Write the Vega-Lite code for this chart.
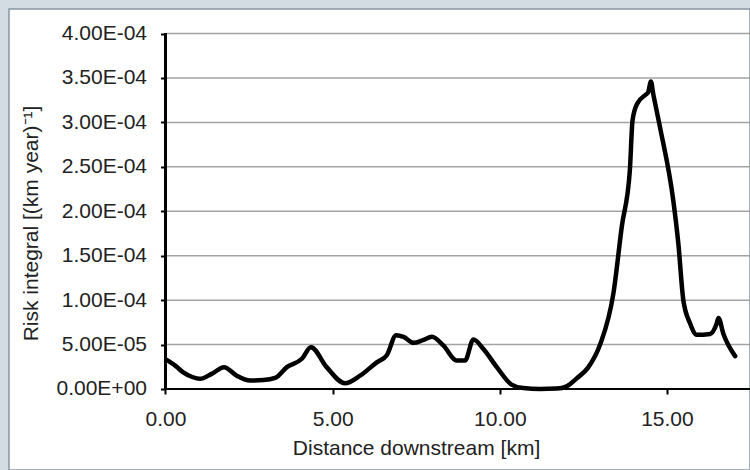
{
  "$schema": "https://vega.github.io/schema/vega-lite/v6.json",
  "width": 741,
  "height": 461,
  "autosize": {"type": "none"},
  "padding": {"left": 9, "top": 9, "right": 0, "bottom": 0},
  "background": "#d3dbe3",
  "config": {"view": {"fill": "white", "stroke": "#8796a5", "strokeWidth": 1.5}},
  "datasets": {
    "risk": [
      {"distance_km": 0.02, "risk": 3.3e-5},
      {"distance_km": 0.3, "risk": 2.6e-5},
      {"distance_km": 0.52, "risk": 1.9e-5},
      {"distance_km": 0.8, "risk": 1.35e-5},
      {"distance_km": 1.03, "risk": 1.14e-5},
      {"distance_km": 1.38, "risk": 1.7e-5},
      {"distance_km": 1.75, "risk": 2.46e-5},
      {"distance_km": 2.13, "risk": 1.5e-5},
      {"distance_km": 2.53, "risk": 0.95e-5},
      {"distance_km": 2.93, "risk": 1.0e-5},
      {"distance_km": 3.28, "risk": 1.25e-5},
      {"distance_km": 3.63, "risk": 2.46e-5},
      {"distance_km": 4.08, "risk": 3.4e-5},
      {"distance_km": 4.35, "risk": 4.7e-5},
      {"distance_km": 4.82, "risk": 2.46e-5},
      {"distance_km": 5.37, "risk": 0.64e-5},
      {"distance_km": 5.82, "risk": 1.5e-5},
      {"distance_km": 6.32, "risk": 3.0e-5},
      {"distance_km": 6.62, "risk": 3.8e-5},
      {"distance_km": 6.9, "risk": 6.06e-5},
      {"distance_km": 7.12, "risk": 5.87e-5},
      {"distance_km": 7.42, "risk": 5.2e-5},
      {"distance_km": 7.7, "risk": 5.5e-5},
      {"distance_km": 7.97, "risk": 5.87e-5},
      {"distance_km": 8.31, "risk": 4.9e-5},
      {"distance_km": 8.71, "risk": 3.2e-5},
      {"distance_km": 8.96, "risk": 3.2e-5},
      {"distance_km": 9.21, "risk": 5.57e-5},
      {"distance_km": 9.51, "risk": 4.5e-5},
      {"distance_km": 9.91, "risk": 2.46e-5},
      {"distance_km": 10.35, "risk": 0.5e-5},
      {"distance_km": 10.7, "risk": 0.1e-5},
      {"distance_km": 11.2, "risk": 0.0},
      {"distance_km": 11.7, "risk": 0.05e-5},
      {"distance_km": 12.0, "risk": 0.3e-5},
      {"distance_km": 12.3, "risk": 1.2e-5},
      {"distance_km": 12.64, "risk": 2.4e-5},
      {"distance_km": 13.0, "risk": 5.0e-5},
      {"distance_km": 13.4, "risk": 10.8e-5},
      {"distance_km": 13.65, "risk": 18.3e-5},
      {"distance_km": 13.89, "risk": 24.6e-5},
      {"distance_km": 13.97, "risk": 30.2e-5},
      {"distance_km": 14.11, "risk": 32.1e-5},
      {"distance_km": 14.39, "risk": 33.2e-5},
      {"distance_km": 14.44, "risk": 33.4e-5},
      {"distance_km": 14.52, "risk": 34.6e-5},
      {"distance_km": 14.59, "risk": 33.2e-5},
      {"distance_km": 14.79, "risk": 29.5e-5},
      {"distance_km": 15.19, "risk": 21.2e-5},
      {"distance_km": 15.34, "risk": 16.4e-5},
      {"distance_km": 15.49, "risk": 10.0e-5},
      {"distance_km": 15.69, "risk": 7.4e-5},
      {"distance_km": 15.89, "risk": 6.1e-5},
      {"distance_km": 16.29, "risk": 6.2e-5},
      {"distance_km": 16.49, "risk": 7.4e-5},
      {"distance_km": 16.54, "risk": 8.0e-5},
      {"distance_km": 16.69, "risk": 6.2e-5},
      {"distance_km": 17.04, "risk": 3.7e-5}
    ],
    "grid": [
      {"level": 0.00005}, {"level": 0.0001}, {"level": 0.00015}, {"level": 0.0002},
      {"level": 0.00025}, {"level": 0.0003}, {"level": 0.00035}, {"level": 0.0004}
    ]
  },
  "layer": [
    {
      "data": {"name": "grid"},
      "mark": {"type": "rule", "color": "#a3a3a3", "strokeWidth": 1.5},
      "encoding": {
        "y": {"field": "level", "type": "quantitative", "scale": {"domain": [-0.00009114, 0.00042757], "nice": false, "zero": false}},
        "x": {"datum": 0, "type": "quantitative", "scale": {"domain": [-4.6814, 17.4843], "nice": false, "zero": false}},
        "x2": {"datum": 17.4843}
      }
    },
    {
      "data": {"name": "risk"},
      "mark": {"type": "rule", "color": "black", "strokeWidth": 2},
      "encoding": {
        "x": {"datum": 0, "type": "quantitative"},
        "y": {"datum": 0, "type": "quantitative"},
        "y2": {"datum": 0.0004}
      }
    },
    {
      "data": {"name": "risk"},
      "mark": {"type": "rule", "color": "black", "strokeWidth": 2},
      "encoding": {
        "y": {"datum": 0, "type": "quantitative"},
        "x": {"datum": 0, "type": "quantitative"},
        "x2": {"datum": 17.4843}
      }
    },
    {
      "data": {"name": "risk"},
      "mark": {"type": "line", "color": "black", "strokeWidth": 4.5, "interpolate": "monotone", "strokeCap": "round", "strokeJoin": "round"},
      "encoding": {
        "x": {
          "field": "distance_km", "type": "quantitative",
          "scale": {"domain": [-4.6814, 17.4843], "nice": false, "zero": false},
          "axis": {
            "values": [0, 5, 10, 15], "format": ".2f", "domain": false, "grid": false,
            "ticks": true, "tickSize": 5, "tickWidth": 2, "tickColor": "black",
            "offset": -81, "labelPadding": 14, "labelFontSize": 21, "labelFont": "Liberation Sans",
            "labelColor": "#222", "labelFlush": false, "labelOverlap": false,
            "title": "Distance downstream [km]", "titleFontSize": 21, "titleFontWeight": "normal",
            "titleFont": "Liberation Sans", "titleColor": "#222", "titleX": 407, "titlePadding": 8
          }
        },
        "y": {
          "field": "risk", "type": "quantitative",
          "scale": {"domain": [-0.00009114, 0.00042757], "nice": false, "zero": false},
          "axis": {
            "values": [0, 0.00005, 0.0001, 0.00015, 0.0002, 0.00025, 0.0003, 0.00035, 0.0004],
            "labelExpr": "datum.value == 0 ? '0.00E+00' : (datum.value >= 0.0000999 ? format(datum.value*10000, '.2f') + 'E-04' : format(datum.value*100000, '.2f') + 'E-05')",
            "domain": false, "grid": false,
            "ticks": true, "tickSize": 5, "tickWidth": 2, "tickColor": "black",
            "offset": -156.5, "labelPadding": 14, "labelFontSize": 21, "labelFont": "Liberation Sans",
            "labelColor": "#222", "labelFlush": false, "labelOverlap": false,
            "title": "Risk integral [(km year)⁻¹]", "titleFontSize": 21, "titleFontWeight": "normal",
            "titleFont": "Liberation Sans", "titleColor": "#222", "titleY": 214, "titlePadding": 14
          }
        }
      }
    }
  ]
}
